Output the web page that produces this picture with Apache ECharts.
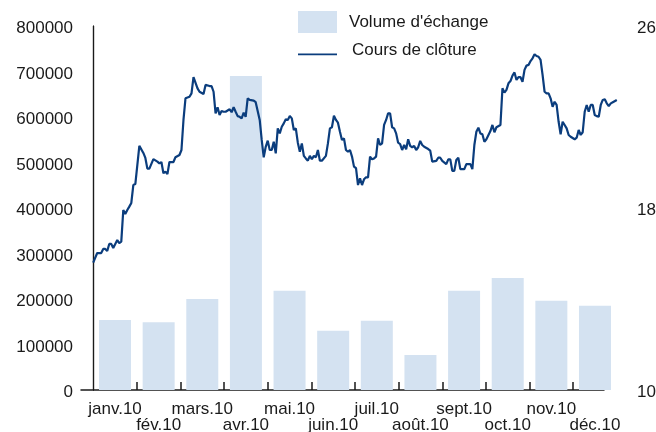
<!DOCTYPE html>
<html>
<head>
<meta charset="utf-8">
<script src="https://cdn.jsdelivr.net/npm/echarts@6/dist/echarts.min.js"></script>
<style>
  html, body { margin: 0; padding: 0; background: #ffffff; }
  #chart { width: 656px; height: 432px; }
</style>
</head>
<body>
<div id="chart"></div>
<script>
// ---- data ----
const months = ["janv.10","fév.10","mars.10","avr.10","mai.10","juin.10","juil.10","août.10","sept.10","oct.10","nov.10","déc.10"];
const volume = [154000,149000,200000,690000,218000,130000,152000,77000,218000,246000,196000,185000];
const volumeTicks = [0,100000,200000,300000,400000,500000,600000,700000,800000];
const priceTicks = [10,18,26];
const seriesNames = ["Volume d'échange","Cours de clôture"];
// trading-day number within the year and closing price
const closeDay = [0,2,4,5,6,7,8,9,10,12,13,14,15,16,17,18,19,20,21,23,25,26,27,28,30,32,33,34,35,36,37,38,40,41,43,44,45,46,48,49,50,52,53,55,56,58,59,60,61,62,63,64,65,66,68,69,70,71,72,73,74,75,76,77,78,80,81,83,84,85,86,87,88,89,90,91,92,93,94,95,96,97,98,99,100,101,102,103,104,105,106,107,108,109,110,111,112,113,114,116,117,118,119,120,121,122,123,124,125,126,127,128,129,130,131,132,133,134,135,136,137,138,139,140,141,142,143,144,145,146,147,148,149,150,151,152,153,154,155,156,157,158,159,160,161,162,163,164,165,167,168,169,171,172,173,174,176,177,178,179,180,181,182,183,185,186,188,189,190,191,192,193,194,195,196,198,199,200,201,203,204,205,206,207,208,209,210,211,212,213,214,215,216,217,218,219,220,221,222,223,224,225,226,227,228,229,230,231,232,233,234,235,236,237,238,240,241,242,243,244,245,246,247,248,249,250,251,252,253,254,255,256,257,258,259,261];
const closePrice = [15.60,16.02,16.02,16.20,16.20,16.11,16.42,16.42,16.24,16.59,16.46,16.52,17.91,17.74,17.91,18.06,18.22,19.01,19.05,20.73,20.42,20.20,19.73,19.73,20.15,20.04,19.96,20.02,19.53,19.60,19.49,20.02,20.02,20.23,20.33,20.55,21.87,22.82,22.89,23.04,23.75,23.26,23.11,23.01,23.41,23.36,23.36,23.11,22.16,22.43,22.09,22.26,22.23,22.23,22.34,22.21,22.43,22.23,22.04,22.01,21.94,22.19,22.01,22.82,22.75,22.72,22.65,21.87,20.99,20.23,20.69,20.96,20.55,20.55,20.91,20.40,21.50,21.28,21.57,21.72,21.90,21.87,22.04,21.94,21.43,21.50,20.87,20.47,20.84,20.29,20.18,20.08,20.29,20.14,20.29,20.23,20.55,20.08,20.08,20.29,20.84,21.50,21.55,22.06,21.87,21.75,21.35,20.99,21.06,20.55,20.47,20.55,20.26,19.82,19.75,19.01,19.31,19.01,19.26,19.35,19.35,20.26,20.14,20.18,20.26,21.06,20.77,20.84,21.65,21.87,22.16,22.16,21.55,21.50,21.28,20.87,20.81,20.55,20.77,20.58,21.02,20.73,20.67,20.73,20.55,20.67,20.95,20.77,20.69,20.59,20.52,20.04,20.07,20.21,20.21,20.07,19.93,20.14,20.14,19.63,19.63,20.11,20.21,19.71,19.71,19.93,19.93,19.71,20.77,21.35,21.53,21.28,21.24,20.91,21.02,21.38,21.65,21.33,21.55,21.65,23.26,23.07,23.19,23.48,23.58,23.82,23.96,23.63,23.75,23.75,23.55,24.07,24.26,24.29,24.46,24.58,24.76,24.68,24.65,24.51,23.85,23.11,23.04,23.04,22.82,22.45,22.67,22.53,21.79,21.24,21.79,21.65,21.50,21.21,21.13,21.02,21.09,21.43,21.21,21.33,22.23,22.53,22.23,22.53,22.53,22.09,22.04,22.01,22.53,22.75,22.78,22.60,22.48,22.60,22.65,22.75];
const tradingDays = 261;

// ---- chart ----
const FONT = '"Liberation Sans", Arial, sans-serif';
const TXT = '#1a1a1a';
const BAR = '#d4e2f1';
const LINE = '#0b3d7d';

const linePoints = closeDay.map((d, i) => [d, closePrice[i]]);
const boundaryTicks = months.slice(1).map((m, i) => i + 1);
const lineIcon = 'image://data:image/svg+xml;charset=utf-8,' + encodeURIComponent(
  "<svg xmlns='http://www.w3.org/2000/svg' width='39' height='10'><rect x='0' y='8' width='39' height='2' fill='" + LINE + "'/></svg>");

const chart = echarts.init(document.getElementById('chart'), null, { renderer: 'canvas' });
chart.setOption({
  animation: false,
  backgroundColor: '#ffffff',
  textStyle: { fontFamily: FONT, color: TXT },
  grid: [
    { left: 81, right: 52, top: 26, bottom: 42, containLabel: false, outerBoundsMode: 'none' },
    { left: 93.2, right: 39.2, top: 26, bottom: 42, containLabel: false, outerBoundsMode: 'none' }
  ],
  legend: [
    {
      data: [{ name: seriesNames[0], icon: 'rect' }],
      left: 298, top: 11, padding: 0, itemWidth: 39, itemHeight: 22,
      selectedMode: false,
      textStyle: { fontFamily: FONT, fontSize: 17, color: TXT, padding: [2, 0, 0, 7] }
    },
    {
      data: [{ name: seriesNames[1], icon: lineIcon }],
      left: 298, top: 42, padding: 0, itemWidth: 39, itemHeight: 10,
      selectedMode: false,
      textStyle: { fontFamily: FONT, fontSize: 17, color: TXT, padding: [0, 0, 0, 10] }
    }
  ],
  xAxis: [
    {
      gridIndex: 1, type: 'category', data: months, boundaryGap: true, position: 'bottom',
      axisLine: { show: false }, axisTick: { show: false },
      axisLabel: {
        interval: 0, margin: 11, fontSize: 17, lineHeight: 16, color: TXT, fontFamily: FONT,
        formatter: (v, i) => (i % 2 ? '\n' + v : v)
      }
    },
    { gridIndex: 1, type: 'value', min: 0, max: tradingDays, show: false, position: 'top' },
    {
      gridIndex: 1, type: 'value', min: 0, max: months.length, interval: 1, position: 'bottom',
      axisLine: { show: false }, axisLabel: { show: false }, splitLine: { show: false },
      axisTick: { show: true, inside: true, length: 8, customValues: boundaryTicks,
        lineStyle: { color: TXT, width: 1.5 } }
    },
    {
      gridIndex: 0, type: 'value', min: 0, max: 1, position: 'bottom',
      axisLine: { show: true, onZero: false, lineStyle: { color: TXT, width: 1.5 } },
      axisTick: { show: false }, axisLabel: { show: false }, splitLine: { show: false }
    }
  ],
  yAxis: [
    {
      gridIndex: 1, type: 'value', position: 'left', offset: 12.2,
      min: volumeTicks[0], max: volumeTicks[volumeTicks.length - 1], interval: volumeTicks[1] - volumeTicks[0],
      axisLine: { show: true, lineStyle: { color: TXT, width: 1.2 } },
      axisTick: { show: false }, splitLine: { show: false },
      axisLabel: { margin: 8, fontSize: 17, color: TXT, fontFamily: FONT,
        verticalAlign: 'top', lineHeight: 5, formatter: v => String(v) }
    },
    {
      gridIndex: 1, type: 'value', position: 'right', offset: 11.2,
      min: priceTicks[0], max: priceTicks[priceTicks.length - 1], interval: priceTicks[1] - priceTicks[0],
      axisLine: { show: true, lineStyle: { color: TXT, width: 1.2 } },
      axisTick: { show: false }, splitLine: { show: false },
      axisLabel: { margin: 9, fontSize: 17, color: TXT, fontFamily: FONT,
        verticalAlign: 'top', lineHeight: 5, formatter: v => String(v) }
    },
    { gridIndex: 0, type: 'value', show: false }
  ],
  series: [
    {
      name: seriesNames[0], type: 'bar', xAxisIndex: 0, yAxisIndex: 0,
      data: volume, barWidth: 32, itemStyle: { color: BAR }, z: 1
    },
    {
      name: seriesNames[1], type: 'line', xAxisIndex: 1, yAxisIndex: 1,
      data: linePoints, showSymbol: false, symbol: 'none',
      lineStyle: { color: LINE, width: 2.2 }, itemStyle: { color: LINE }, z: 5
    }
  ]
});
</script>
</body>
</html>
